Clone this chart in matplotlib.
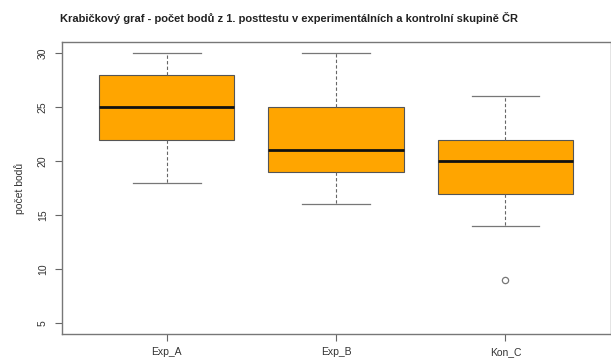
import matplotlib
matplotlib.use("Agg")
import matplotlib.pyplot as plt

plt.rcParams['font.family'] = ['Liberation Sans', 'DejaVu Sans']

# Summary statistics of the first post-test score per group
groups = ["Exp_A", "Exp_B", "Kon_C"]
whisker_low = [18, 16, 14]
q1 = [22, 19, 17]
medians = [25, 21, 20]
q3 = [28, 25, 22]
whisker_high = [30, 30, 26]
outliers = [[], [], [9]]

y_ticks = [5, 10, 15, 20, 25, 30]

stats = []
for name, lo, a, m, b, hi, fl in zip(groups, whisker_low, q1, medians, q3,
                                     whisker_high, outliers):
    stats.append(dict(label=name, whislo=lo, q1=a, med=m, q3=b,
                      whishi=hi, fliers=fl))

fig = plt.figure(figsize=(6.11, 3.58), dpi=100)
ax = fig.add_axes([61.6 / 611, 1 - 334 / 358, (610.5 - 61.6) / 611, (334 - 42.3) / 358])

line_col = "#555555"
ax.bxp(stats, positions=[1, 2, 3], widths=0.8, patch_artist=True,
       boxprops=dict(facecolor="#FFA500", edgecolor=line_col, linewidth=0.8),
       medianprops=dict(color="#111111", linewidth=2.0, solid_capstyle="butt"),
       whiskerprops=dict(color="#666666", linewidth=0.8, linestyle=(0, (3, 2))),
       capprops=dict(color="#777777", linewidth=0.9),
       capwidths=0.4,
       flierprops=dict(marker="o", markerfacecolor="none",
                       markeredgecolor="#777777", markersize=4.5,
                       markeredgewidth=0.9))

ax.set_xlim(0.38, 3.62)
ax.set_ylim(4, 31)
ax.set_yticks(y_ticks)
ax.set_yticklabels([str(v) for v in y_ticks], rotation=90, va="center")
ax.set_xticks([1, 2, 3])
ax.set_xticklabels(groups)

for sp in ax.spines.values():
    sp.set_color("#777777")
    sp.set_linewidth(1.0)

ax.tick_params(axis="both", direction="out", length=5, width=0.8,
               colors="#666666", labelcolor="#333333", labelsize=7.5)
ax.tick_params(axis="y", pad=5)
ax.tick_params(axis="x", pad=4.5)

ax.set_ylabel("počet bodů", fontsize=7.5, color="#333333", labelpad=9)

fig.text(289 / 611, 1 - 18 / 358,
         "Krabičkový graf - počet bodů z 1. posttestu v experimentálních a kontrolní skupině ČR",
         ha="center", va="center", fontsize=8.0, fontweight="bold", color="#222222")

fig.savefig("out.png", dpi=100)
